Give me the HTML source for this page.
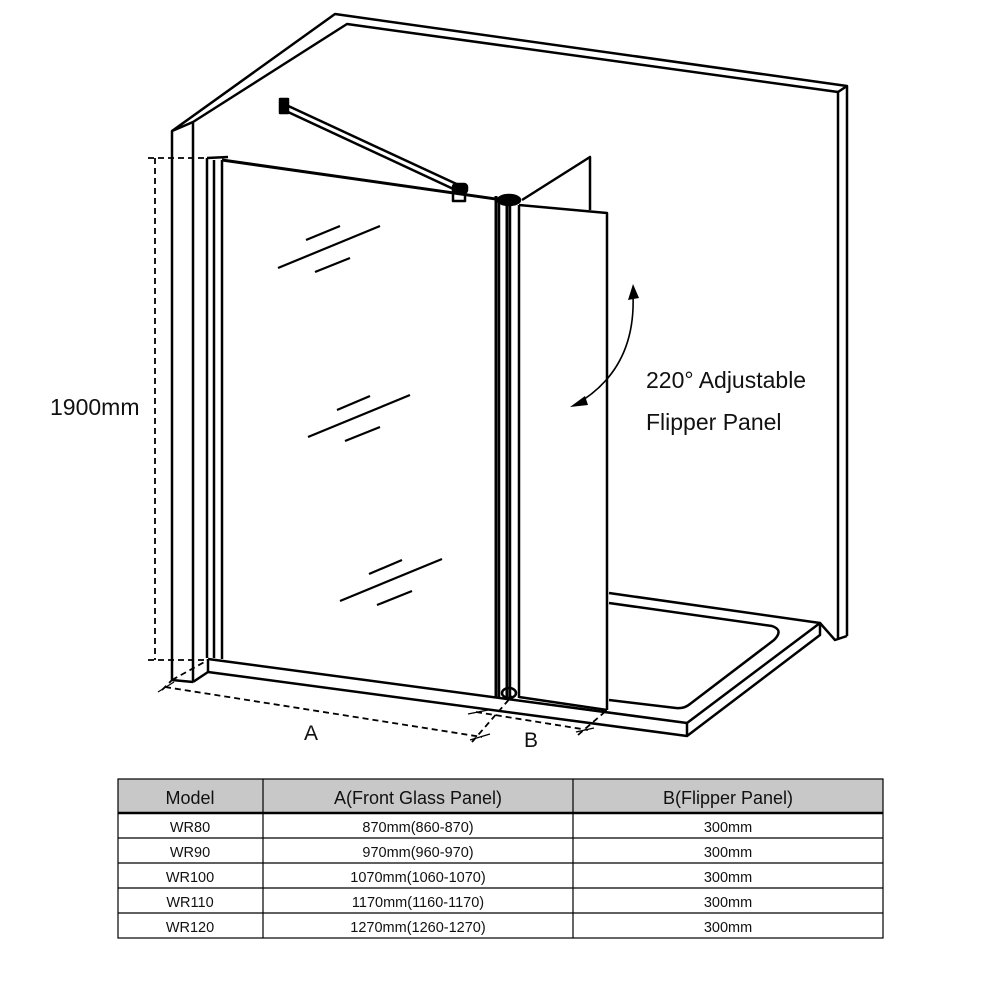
<!DOCTYPE html>
<html><head><style>
body{margin:0;background:#fff;}
svg{display:block;}
text{font-family:"Liberation Sans",Arial,sans-serif;fill:#111;}
</style></head><body>
<svg width="1001" height="1001" viewBox="0 0 1001 1001" xmlns="http://www.w3.org/2000/svg">
<g fill="none" stroke="#000" stroke-width="2.5" stroke-linejoin="round">
<!-- wall -->
<polyline points="172,680 172,131 335,14 847,86 847,636"/>
<polyline points="193,682 193,122 347,24 838,92 838,640"/>
<line x1="172" y1="131" x2="193" y2="122"/>
<line x1="838" y1="92" x2="847" y2="86"/>
<polyline points="820,623 835,640 847,636"/>
<line x1="172" y1="680" x2="193" y2="682"/>
<!-- tray -->
<polyline points="193,682 208,672 687,736 820,635 820,623 687,723 687,736"/>
<line x1="208" y1="659" x2="687" y2="723"/>
<line x1="208" y1="659" x2="208" y2="672"/>
<line x1="609" y1="593" x2="820" y2="623"/>
<path d="M609,603 L772,626 Q784,630 774,640 L690,704 Q684,709 676,708 L609,700"/>
<!-- front glass posts -->
<line x1="207" y1="158" x2="207" y2="658"/>
<line x1="214" y1="160" x2="214" y2="658"/>
<line x1="222" y1="160" x2="222" y2="659"/>
<line x1="207" y1="158" x2="228" y2="157"/>
<!-- top rail -->
<line x1="222" y1="160" x2="510" y2="201" stroke-width="3"/>
<!-- stabilizer -->
<line x1="284" y1="104" x2="463" y2="187" stroke-width="2.5"/>
<line x1="288" y1="112" x2="462" y2="193" stroke-width="2.5"/>
<rect x="280" y="99" width="8" height="14" fill="#000"/>
<rect x="453" y="184" width="14" height="9" rx="3" fill="#000"/>
<rect x="453" y="191" width="12" height="10"/>
<!-- right posts -->
<line x1="496" y1="196" x2="496" y2="698" stroke-width="3"/>
<line x1="499" y1="197" x2="499" y2="698"/>
<line x1="507" y1="200" x2="507" y2="698" stroke-width="3"/>
<line x1="510" y1="200" x2="510" y2="698"/>
<line x1="519" y1="205" x2="519" y2="698"/>
<ellipse cx="509" cy="200" rx="11" ry="5" fill="#000"/>
<ellipse cx="509" cy="693" rx="7" ry="5"/>
<!-- flipper -->
<polyline points="522,200 590,157 590,210"/>
<polyline points="519,205 607,213 607,710"/>
<line x1="519" y1="697" x2="607" y2="710"/>
<!-- glass reflections -->
<g stroke-width="2.2">
<line x1="306" y1="240" x2="340" y2="226"/><line x1="278" y1="268" x2="380" y2="226"/><line x1="315" y1="272" x2="350" y2="258"/>
<line x1="337" y1="410" x2="370" y2="396"/><line x1="308" y1="437" x2="410" y2="395"/><line x1="345" y1="441" x2="380" y2="427"/>
<line x1="369" y1="574" x2="402" y2="560"/><line x1="340" y1="601" x2="442" y2="559"/><line x1="377" y1="605" x2="412" y2="591"/>
</g>
<!-- arrow -->
<path d="M575,405 Q636,370 633,295" stroke-width="1.6"/>
</g>
<polygon points="633,284 628,300 639,298" fill="#000"/>
<polygon points="570,407 585,396 588,405" fill="#000"/>
<!-- dimension dashes -->
<g fill="none" stroke="#000" stroke-width="1.8" stroke-dasharray="6,4">
<line x1="155" y1="158" x2="155" y2="660"/>
<line x1="148" y1="158" x2="207" y2="158"/>
<line x1="148" y1="660" x2="207" y2="660"/>
<line x1="172" y1="680" x2="208" y2="660"/>
<line x1="165" y1="687" x2="482" y2="737"/>
<line x1="476" y1="712" x2="588" y2="730"/>
<line x1="472" y1="742" x2="512" y2="696"/>
<line x1="578" y1="735" x2="607" y2="710"/>
<line x1="162" y1="690" x2="172" y2="680"/>
</g>
<g stroke="#000" stroke-width="1.2">
<line x1="158" y1="692" x2="174" y2="682"/>
<line x1="470" y1="740" x2="490" y2="734"/>
<line x1="468" y1="714" x2="488" y2="710"/>
<line x1="576" y1="732" x2="594" y2="728"/>
</g>
<text x="50" y="415" font-size="23">1900mm</text>
<text x="646" y="388" font-size="23">220° Adjustable</text>
<text x="646" y="430" font-size="23">Flipper Panel</text>
<text x="304" y="740" font-size="21">A</text>
<text x="524" y="747" font-size="21">B</text>
<!-- table -->
<rect x="118" y="779" width="765" height="34" fill="#c8c8c8"/>
<g stroke="#000" stroke-width="1.2" fill="none">
<rect x="118" y="779" width="765" height="159"/>
<line x1="118" y1="813" x2="883" y2="813" stroke-width="2.4"/>
<line x1="118" y1="838" x2="883" y2="838"/>
<line x1="118" y1="863" x2="883" y2="863"/>
<line x1="118" y1="888" x2="883" y2="888"/>
<line x1="118" y1="913" x2="883" y2="913"/>
<line x1="263" y1="779" x2="263" y2="938"/>
<line x1="573" y1="779" x2="573" y2="938"/>
</g>
<g font-size="18" text-anchor="middle">
<text x="190" y="804">Model</text><text x="418" y="804">A(Front Glass Panel)</text><text x="728" y="804">B(Flipper Panel)</text>
</g>
<g font-size="14.5" text-anchor="middle">
<text x="190" y="832">WR80</text><text x="418" y="832">870mm(860-870)</text><text x="728" y="832">300mm</text>
<text x="190" y="857">WR90</text><text x="418" y="857">970mm(960-970)</text><text x="728" y="857">300mm</text>
<text x="190" y="882">WR100</text><text x="418" y="882">1070mm(1060-1070)</text><text x="728" y="882">300mm</text>
<text x="190" y="907">WR110</text><text x="418" y="907">1170mm(1160-1170)</text><text x="728" y="907">300mm</text>
<text x="190" y="932">WR120</text><text x="418" y="932">1270mm(1260-1270)</text><text x="728" y="932">300mm</text>
</g>
</svg>
</body></html>
